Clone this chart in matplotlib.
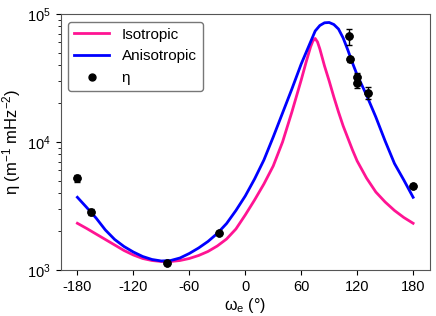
import matplotlib
matplotlib.use("Agg")
import matplotlib.pyplot as plt

plt.rcParams['font.family'] = ['Liberation Sans', 'DejaVu Sans']
plt.rcParams['mathtext.fontset'] = 'custom'
plt.rcParams['mathtext.rm'] = 'Liberation Sans'
plt.rcParams['mathtext.it'] = 'Liberation Sans:italic'
plt.rcParams['mathtext.bf'] = 'Liberation Sans:bold'
plt.rcParams['axes.unicode_minus'] = False

# Isotropic model curve
iso_w = [-180, -170, -160, -150, -140, -130, -120, -110, -100, -90, -80, -70, -60, -50, -40,
         -30, -20, -10, 0, 10, 20, 30, 40, 50, 60, 65, 70, 72.5, 75, 77.5, 80, 85, 90, 95, 100,
         105, 110, 115, 120, 130, 140, 150, 160, 170, 180]
iso_eta = [2317, 2110, 1911, 1731, 1568, 1420, 1310, 1230, 1186, 1165, 1165, 1186, 1230, 1298,
           1395, 1540, 1747, 2091, 2690, 3523, 4698, 6494, 10000, 17150, 30500, 41420, 55240,
           61520, 64390, 60420, 53300, 39250, 29970, 22470, 17150, 13340, 10750, 8660, 7105,
           5233, 4068, 3398, 2917, 2572, 2317]

# Anisotropic model curve
ani_w = [-180, -170, -160, -150, -140, -130, -120, -110, -100, -90, -80, -70, -60, -50, -40,
         -30, -20, -10, 0, 10, 20, 30, 40, 50, 60, 70, 75, 80, 85, 90, 95, 100, 105, 110, 115,
         120, 125, 130, 140, 150, 160, 170, 180]
ani_eta = [3698, 3078, 2549, 2054, 1731, 1526, 1382, 1275, 1208, 1176, 1186, 1241, 1346, 1486,
           1670, 1929, 2308, 2917, 3785, 5140, 7233, 10940, 16850, 25950, 40680, 60420, 73670,
           81330, 85370, 85830, 82800, 76340, 64940, 52330, 41420, 33380, 27880, 23290, 15680,
           10180, 6792, 5048, 3698]

# Measured eta with error bars
obs_w = [-180, -165, -84.4, -28.5, 111.5, 112.5, 119.3, 120.3, 131.6, 180]
obs_eta = [5200, 2850, 1140, 1955, 67000, 44500, 32000, 28800, 24300, 4510]
obs_err = [300, 150, 40, 60, 10000, 2000, 2500, 2500, 2600, 150]

xticks = [-180, -120, -60, 0, 60, 120, 180]

fig = plt.figure(figsize=(4.36, 3.16), dpi=100)
ax = fig.add_axes([0.139, 0.1456, 0.847, 0.8101])

ax.plot(iso_w, iso_eta, color='#ff1493', lw=2, label='Isotropic')
ax.plot(ani_w, ani_eta, color='#0000ff', lw=2, label='Anisotropic')
ax.errorbar(obs_w, obs_eta, yerr=obs_err, fmt='o', color='black', ms=5,
            capsize=2, elinewidth=1, capthick=1, label='_nolegend_')
ax.plot(obs_w, obs_eta, 'o', color='black', ms=5, label='η')

ax.set_yscale('log')
ax.set_ylim(1e3, 1e5)
ax.set_xlim(-198, 198)
ax.set_xticks(xticks)
ax.set_xticklabels([str(t) for t in xticks])
ax.tick_params(labelsize=10.5)
ax.set_xlabel('ω$_\\mathrm{e}$ (°)', fontsize=11.5, labelpad=2)
ax.set_ylabel('η (m$^{-1}$ mHz$^{-2}$)', fontsize=12, labelpad=3)
for s in ax.spines.values():
    s.set_color('#555555')

leg = ax.legend(loc='upper left', fontsize=11, frameon=True, handlelength=2.3)
leg.get_frame().set_edgecolor('#555555')

fig.savefig('out.png', dpi=100)
